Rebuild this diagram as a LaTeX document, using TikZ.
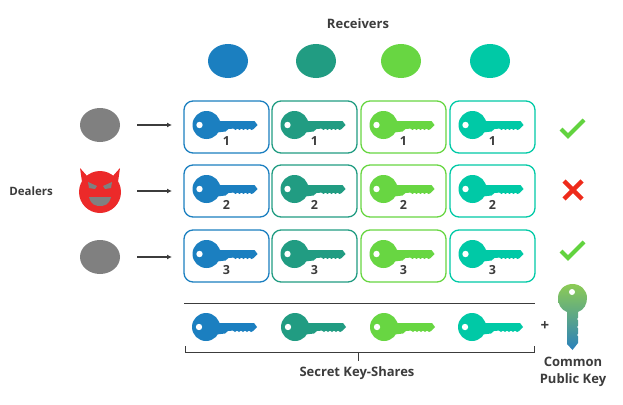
\documentclass[tikz,border=0pt]{standalone}
\usepackage{fontspec}
\setmainfont{Open Sans}
\definecolor{kA}{HTML}{1B7FC0}
\definecolor{kB}{HTML}{219C82}
\definecolor{kC}{HTML}{68D642}
\definecolor{kD}{HTML}{00C9A6}
\definecolor{txt}{HTML}{3C3C3C}
\definecolor{dealerGray}{HTML}{808080}
\definecolor{devil}{HTML}{EC2A2A}
\definecolor{okG}{HTML}{62D33F}
\definecolor{badR}{HTML}{EE2B1B}
\definecolor{pubTop}{HTML}{8CCB55}
\definecolor{pubMid}{HTML}{7FC470}
\definecolor{pubBot}{HTML}{2A80BC}
\tikzset{
  x=1pt,y=-1pt,
  label text/.style={font=\bfseries\fontsize{13}{17}\selectfont,text=txt,inner sep=0pt,align=center},
  share num/.style={font=\bfseries\fontsize{12.5}{14}\selectfont,text=txt,inner sep=0pt},
  share box/.style={draw=#1,line width=1.3pt,rounded corners=9pt,minimum width=85pt,minimum height=52pt,inner sep=0pt,fill=white},
  party/.style={ellipse,minimum width=40pt,minimum height=34pt,inner sep=0pt,fill=#1},
  flow/.style={draw=txt,line width=1.1pt,-{Latex[length=5pt,width=5pt]}},
  rule line/.style={draw=txt,line width=0.9pt},
  pics/key/.style={code={
    \fill[#1] (0,0) circle[radius=14]
      (6,-5) -- (14,-4) -- (44,-4) -- (48,-4) -- (51,0) -- (47,4)
      -- (45,5) -- (43,3.6) -- (41,5) -- (39,3.6) -- (37,5) -- (35,3.6) -- (33,5) -- (31,3.6)
      -- (29,5) -- (27,3.6) -- (22,4) -- (19,6.5) -- (6,8) -- cycle;
    \fill[white] (-7,0) circle[radius=3.2];
  }}
}
\usetikzlibrary{arrows.meta,shapes.geometric}
\begin{document}
\begin{tikzpicture}
\useasboundingbox (0,0) rectangle (623,404);
\node[label text] (receivers) at (358,24) {Receivers};
\node[label text,font=\bfseries\fontsize{11.5}{17}\selectfont] (dealers) at (31,191) {Dealers};
\node[label text] (shares) at (357,373) {Secret Key-Shares};
\node[label text] (common) at (573,372) {Common\\Public Key};
\node[label text,font=\bfseries\fontsize{15}{17}\selectfont] (plus) at (545,326) {+};
\node[party=kA] (r1) at (228,61) {};
\node[party=kB] (r2) at (316,61) {};
\node[party=kC] (r3) at (401,61) {};
\node[party=kD] (r4) at (490,61) {};
\node[party=dealerGray] (d1) at (100,125) {};
\node[party=dealerGray] (d3) at (100,257) {};
% devil
\fill[devil] (82,182) -- (80,168) -- (88,177) -- (112,177) -- (120,168) -- (118,182) -- cycle;
\node[circle,fill=devil,minimum size=42pt,inner sep=0pt] (d2) at (100,192) {};
\fill[dealerGray] (88,182) -- (97,186) -- (95,189) -- (89,188) -- cycle;
\fill[dealerGray] (112,182) -- (103,186) -- (105,189) -- (111,188) -- cycle;
\fill[dealerGray] (89,197) -- (111,197) .. controls (109,205) and (104,206) .. (100,206) .. controls (96,206) and (91,205) .. (89,197) -- cycle;
% boxes
\foreach \r/\y in {1/127,2/191,3/256}{
  \foreach \c/\x/\col in {1/226.5/kA,2/314.5/kB,3/403.5/kC,4/492.5/kD}{
    \node[share box=\col] (b\r\c) at (\x,\y) {};
    \pic at (\x-20,\y-2) {key=\col};
    \node[share num] (n\r\c) at (\x,\y+14) {\r};
  }
}
\foreach \i/\y in {1/125,2/191,3/257}{
  \coordinate (as\i) at (137,\y);
  \coordinate (ae\i) at (172,\y);
  \draw[flow] (as\i) -- (ae\i);
}
% verdicts
\draw[okG,line width=4pt] (561,129) -- (568,136) -- (584,120);
\draw[badR,line width=4.5pt] (564,181) -- (582,199) (582,181) -- (564,199);
\draw[okG,line width=4pt] (561,251) -- (568,258) -- (584,242);
% rule and bottom keys
\coordinate (ruleL) at (184,303);
\coordinate (ruleR) at (535,303);
\draw[rule line] (ruleL) -- (ruleR);
\pic at (206,327) {key=kA};
\pic at (295,327) {key=kB};
\pic at (384,327) {key=kC};
\pic at (472,327) {key=kD};
\coordinate (brL) at (185,346);
\coordinate (brR) at (534,346);
\coordinate (brT) at (358,361);
\draw[rule line] (brL) -- (185,352) -- (534,352) -- (brR);
\draw[rule line] (358,352) -- (brT);
% common key
\shade[top color=pubTop,middle color=pubMid,bottom color=pubBot]
  (567,312) .. controls (561,310) and (558,304) .. (558,298)
  .. controls (558,290) and (564.5,284) .. (572.5,284)
  .. controls (580.5,284) and (587,290) .. (587,298)
  .. controls (587,304) and (584,310) .. (578,312)
  -- (578,343) -- (572.5,350) -- (567,344) -- cycle;
\fill[white] (572,292) circle[radius=3];
\fill[white] (578.5,319) circle[radius=1.4] (578.5,327) circle[radius=1.4] (578.5,335) circle[radius=1.4];
\end{tikzpicture}
\end{document}
